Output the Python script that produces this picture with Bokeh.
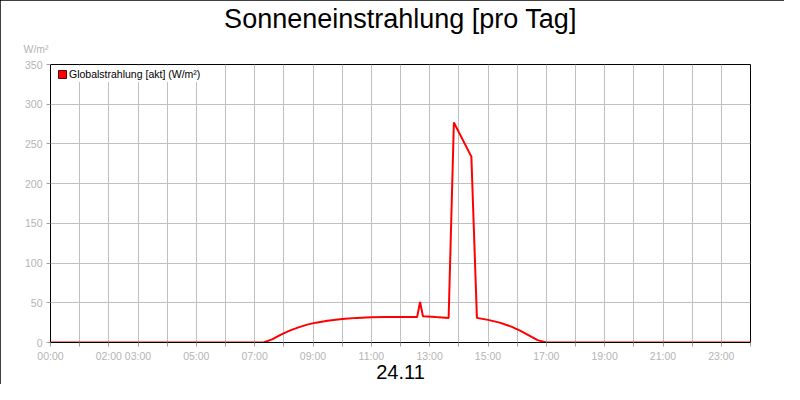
from bokeh.plotting import figure
from bokeh.models import (Range1d, FixedTicker, Title, Legend, LegendItem,
                          ColumnDataSource)
from bokeh.embed import file_html
from bokeh.resources import INLINE

title_text = "Sonneneinstrahlung [pro Tag]"
series_name = "Globalstrahlung [akt] (W/m²)"
unit_label = "W/m²"
date_label = "24.11"

hours = [0.0, 7.3, 7.6, 7.9, 8.2, 8.5, 8.8, 9.1, 9.5, 10.0, 10.5, 11.0, 11.5,
         12.0, 12.57, 12.67, 12.77, 13.2, 13.65, 13.83, 14.43, 14.62, 15.0,
         15.4, 15.8, 16.1, 16.4, 16.7, 17.0, 24.0]
radiation = [0, 0, 4, 10, 15, 19, 22.5, 25, 27.5, 29.5, 31, 31.7, 32,
             32, 32, 51, 33, 32, 31, 277, 234, 31, 28.5,
             25, 20, 15, 9, 3, 0, 0]

x_ticks = list(range(0, 25))
x_tick_labels = {0: "00:00", 2: "02:00", 3: "03:00", 5: "05:00", 7: "07:00",
                 9: "09:00", 11: "11:00", 13: "13:00", 15: "15:00",
                 17: "17:00", 19: "19:00", 21: "21:00", 23: "23:00"}
y_ticks = [0, 50, 100, 150, 200, 250, 300, 350]

FONT = "Liberation Sans"
GRAY_TXT = "#b4b4b4"

p = figure(width=784, height=384, output_backend="svg", toolbar_location=None,
           title=None, x_range=Range1d(0, 24), y_range=Range1d(0, 350),
           min_border_left=50, min_border_right=34, min_border_top=64,
           min_border_bottom=42)
p.styles = {"outline": "1px solid black", "outline-offset": "-1px"}

src = ColumnDataSource(dict(h=hours, v=radiation))
p.line("h", "v", source=src, line_color="#ff0000", line_width=2)

# hidden renderer of the same data, used only for the square legend swatch
sw = p.quad(left="h", right="h", top="v", bottom="v", source=src,
            fill_color="#ff0000", line_color="#600000", line_width=1,
            visible=False)
legend = Legend(items=[LegendItem(label=series_name, renderers=[sw])],
                location=(5, 260), padding=2, margin=0, spacing=0,
                glyph_width=10, glyph_height=10, label_standoff=2,
                label_height=10, border_line_alpha=0,
                background_fill_color="white", background_fill_alpha=1,
                inactive_fill_alpha=0,
                label_text_font=FONT, label_text_font_size="10.5px",
                label_text_color="black")
p.add_layout(legend, "center")

p.add_layout(Title(text=unit_label, align="left", offset=-27,
                   vertical_align="top", standoff=15, text_font=FONT,
                   text_font_size="10.5px", text_font_style="normal",
                   text_color=GRAY_TXT), "above")
p.add_layout(Title(text=title_text, align="center", vertical_align="middle",
                   standoff=2, text_font=FONT, text_font_size="27px",
                   text_font_style="normal", text_color="black"), "above")

p.outline_line_color = "black"
p.outline_line_width = 1

for ax in (p.xaxis[0], p.yaxis[0]):
    ax.axis_line_color = "black"
    ax.major_tick_line_color = "#a0a0a0"
    ax.major_tick_out = 4
    ax.major_tick_in = 0
    ax.minor_tick_line_color = None
    ax.major_label_text_color = GRAY_TXT
    ax.major_label_text_font = FONT
    ax.major_label_text_font_size = "10.5px"

p.xaxis.ticker = FixedTicker(ticks=x_ticks)
p.xaxis.major_label_overrides = {t: x_tick_labels.get(t, "") for t in x_ticks}
p.xaxis.major_label_standoff = 3
p.xaxis.axis_label = date_label
p.xaxis.axis_label_standoff = 0
p.xaxis.axis_label_text_font = FONT
p.xaxis.axis_label_text_font_size = "20px"
p.xaxis.axis_label_text_font_style = "normal"
p.xaxis.axis_label_text_color = "black"
p.yaxis.ticker = FixedTicker(ticks=y_ticks)
p.yaxis.major_label_standoff = 4

p.xgrid.ticker = FixedTicker(ticks=x_ticks)
p.ygrid.ticker = FixedTicker(ticks=y_ticks)
for g in (p.xgrid[0], p.ygrid[0]):
    g.grid_line_color = "#c0c0c0"
    g.grid_line_width = 1

open("out.html", "w").write(file_html(p, INLINE))
